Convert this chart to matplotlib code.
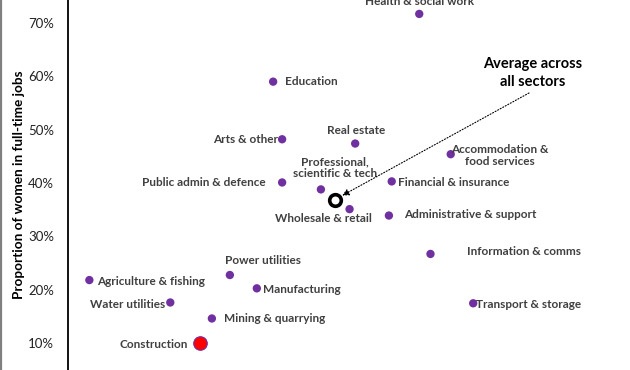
import matplotlib
matplotlib.use("Agg")
import matplotlib.pyplot as plt
from matplotlib.lines import Line2D

plt.rcParams['font.family'] = ['Lato', 'DejaVu Sans']

sectors = ["Health & social work", "Education", "Arts & other", "Real estate",
           "Accommodation &\nfood services", "Public admin & defence",
           "Professional,\nscientific & tech", "Financial & insurance",
           "Wholesale & retail", "Administrative & support", "Information & comms",
           "Agriculture & fishing", "Power utilities", "Manufacturing",
           "Water utilities", "Transport & storage", "Mining & quarrying",
           "Construction"]
x_vals = [62.5, 36.5, 38.1, 51.1, 68.1, 38.1, 45.0, 57.6, 50.1, 57.1, 64.5,
          3.8, 28.8, 33.6, 18.2, 72.1, 25.6, 23.4]
women_pct = [71.7, 59.0, 48.2, 47.4, 45.4, 40.1, 38.8, 40.3, 35.1, 33.9, 26.7,
             21.8, 22.75, 20.25, 17.6, 17.45, 14.6, 10.05]
avg_x = [47.5]
avg_y = [36.9]
y_ticks = [10, 20, 30, 40, 50, 60, 70]
y_ticklabels = ["10%", "20%", "30%", "40%", "50%", "60%", "70%"]

# label placement: (dx right, dy up in pixels, ha)
label_pos = {
    "Health & social work": (0, 12, "center"),
    "Education": (12, 0, "left"),
    "Arts & other": (-4, 0, "right"),
    "Real estate": (1, 13, "center"),
    "Accommodation &\nfood services": (49, -1, "center"),
    "Public admin & defence": (-16, 0, "right"),
    "Professional,\nscientific & tech": (14, 22, "center"),
    "Financial & insurance": (6, -1, "left"),
    "Wholesale & retail": (-26, -9, "center"),
    "Administrative & support": (15, 1, "left"),
    "Information & comms": (37, 2, "left"),
    "Agriculture & fishing": (8, -1, "left"),
    "Power utilities": (33, 15, "center"),
    "Manufacturing": (6, -1, "left"),
    "Water utilities": (-5, -2, "right"),
    "Transport & storage": (3, -1, "left"),
    "Mining & quarrying": (12, 0, "left"),
    "Construction": (-12, -2, "right"),
}

fig = plt.figure(figsize=(6.3, 3.7), dpi=100)
ax = fig.add_axes([68/630, 0, 1 - 68/630, 1])
ax.set_xlim(0, 100)
ax.set_ylim(4.94, 74.31)

purple = "#7030A0"
for name, x, y in zip(sectors, x_vals, women_pct):
    if name == "Construction":
        ax.scatter([x], [y], s=95, color="#FF0000", edgecolor=purple, linewidth=0.8, zorder=3)
    else:
        ax.scatter([x], [y], s=36, color=purple, edgecolor="none", zorder=3)
    dx, dy, ha = label_pos[name]
    ax.annotate(name, (x, y), xytext=(dx, dy), textcoords="offset pixels",
                ha=ha, va="center", fontsize=8.5, fontweight="bold", color="#404040",
                multialignment="center", linespacing=1.1)

ax.scatter(avg_x, avg_y, s=70, facecolor="white", edgecolor="black", linewidth=2.6, zorder=4)
ax.text(533/630, 1 - 73/370, "Average across\nall sectors", transform=fig.transFigure,
        ha="center", va="center", fontsize=10.5, fontweight="bold", color="black",
        linespacing=1.35)
ax.annotate("", xy=(avg_x[0], avg_y[0]),
            xytext=(529/630, 1 - 93/370), textcoords="figure fraction",
            arrowprops=dict(arrowstyle="-|>", linestyle=(0, (1, 1.6)), color="black",
                            lw=0.8, shrinkA=0, shrinkB=6, mutation_scale=10))

ax.set_yticks(y_ticks)
ax.set_yticklabels(y_ticklabels, fontsize=9.5, color="#222222")
ax.tick_params(axis="y", length=0, pad=10)
ax.set_xticks([])
for s in ["top", "right", "bottom"]:
    ax.spines[s].set_visible(False)
ax.spines["left"].set_linewidth(1.3)
ax.spines["left"].set_color("black")
ax.set_ylabel("Proportion of women in full-time jobs", fontsize=9.8, fontweight="bold",
              color="black")
ax.yaxis.set_label_coords(-43/562, 0.5)

fig.add_artist(Line2D([0.0015, 0.0015], [0, 1], transform=fig.transFigure,
                      color="#808080", linewidth=1.6))

fig.savefig("out.png", dpi=100)
